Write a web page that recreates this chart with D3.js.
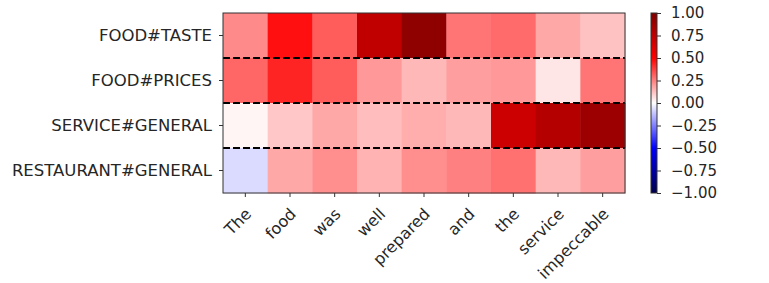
<!DOCTYPE html>
<html>
<head>
<meta charset="utf-8">
<script src="https://cdn.jsdelivr.net/npm/d3@7"></script>
<style>
  html, body { margin: 0; padding: 0; background: #fff; }
  svg { display: block; }
  text { font-family: "DejaVu Sans", sans-serif; fill: #262626; }
</style>
</head>
<body>
<svg id="chart" width="769" height="283"></svg>
<script>
const words = ["The", "food", "was", "well", "prepared", "and", "the", "service", "impeccable"];
const aspects = ["FOOD#TASTE", "FOOD#PRICES", "SERVICE#GENERAL", "RESTAURANT#GENERAL"];
const foodTaste        = [0.23, 0.47, 0.32, 0.75, 0.94, 0.27, 0.29, 0.17, 0.12];
const foodPrices       = [0.30, 0.43, 0.32, 0.20, 0.14, 0.19, 0.20, 0.05, 0.27];
const serviceGeneral   = [0.02, 0.11, 0.17, 0.13, 0.16, 0.14, 0.70, 0.79, 0.89];
const restaurantGeneral= [-0.07, 0.17, 0.22, 0.15, 0.22, 0.25, 0.28, 0.14, 0.19];
const colorbarTicks = [1.00, 0.75, 0.50, 0.25, 0.00, -0.25, -0.50, -0.75, -1.00];

const rows = [foodTaste, foodPrices, serviceGeneral, restaurantGeneral];
const cells = [];
rows.forEach((r, i) => r.forEach((v, j) => cells.push({row: aspects[i], col: words[j], v})));

const svg = d3.select("#chart");
const L = 223, R = 625, T = 13, B = 193;

const x = d3.scaleBand().domain(words).range([L, R]);
const y = d3.scaleBand().domain(aspects).range([T, B]);
const color = d3.scaleLinear()
  .domain([-1, -0.5, 0, 0.5, 1])
  .range(["#00004c", "#0000ff", "#ffffff", "#ff0000", "#800000"])
  .clamp(true);

// cells
svg.append("g").selectAll("rect").data(cells).join("rect")
  .attr("x", d => x(d.col))
  .attr("y", d => y(d.row))
  .attr("width", x.bandwidth() + 0.5)
  .attr("height", y.bandwidth() + 0.5)
  .attr("fill", d => color(d.v));

// dashed separators
svg.append("g").selectAll("line").data(aspects.slice(1)).join("line")
  .attr("x1", L).attr("x2", R)
  .attr("y1", d => y(d)).attr("y2", d => y(d))
  .attr("stroke", "#000").attr("stroke-width", 2)
  .attr("stroke-dasharray", "7,3");

// frame
svg.append("rect").attr("x", L).attr("y", T).attr("width", R - L).attr("height", B - T)
  .attr("fill", "none").attr("stroke", "#333").attr("stroke-width", 1);

// y axis
const yAxis = svg.append("g").attr("transform", `translate(${L},0)`)
  .call(d3.axisLeft(y).tickSize(4).tickPadding(7));
yAxis.select(".domain").remove();
yAxis.selectAll("line").attr("stroke", "#333");
yAxis.selectAll("text").style("font-size", "16.5px").attr("fill", "#262626");

// x axis
const xAxis = svg.append("g").attr("transform", `translate(0,${B})`)
  .call(d3.axisBottom(x).tickSize(4).tickPadding(0));
xAxis.select(".domain").remove();
xAxis.selectAll("line").attr("stroke", "#333");
xAxis.selectAll("text")
  .style("font-size", "16px")
  .attr("text-anchor", "end")
  .attr("dy", null)
  .attr("y", null)
  .attr("transform", "translate(7,22) rotate(-45)");

// colorbar
const cbL = 651, cbW = 6;
const cy = d3.scaleLinear().domain([-1, 1]).range([B, T]);
const defs = svg.append("defs");
const grad = defs.append("linearGradient").attr("id", "cbgrad")
  .attr("x1", 0).attr("y1", 1).attr("x2", 0).attr("y2", 0);
d3.range(0, 1.0001, 0.05).forEach(t => {
  grad.append("stop").attr("offset", t).attr("stop-color", color(-1 + 2 * t));
});
svg.append("rect").attr("x", cbL).attr("y", T).attr("width", cbW).attr("height", B - T)
  .attr("fill", "url(#cbgrad)").attr("stroke", "#333").attr("stroke-width", 1);

const cAxis = svg.append("g").attr("transform", `translate(${cbL + cbW},0)`)
  .call(d3.axisRight(cy).tickValues(colorbarTicks).tickSize(4).tickPadding(10)
    .tickFormat(d => d3.format(".2f")(d).replace("-", "\u2212")));
cAxis.select(".domain").remove();
cAxis.selectAll("line").attr("stroke", "#333");
cAxis.selectAll("text").style("font-size", "15px").attr("fill", "#262626");
</script>
</body>
</html>
